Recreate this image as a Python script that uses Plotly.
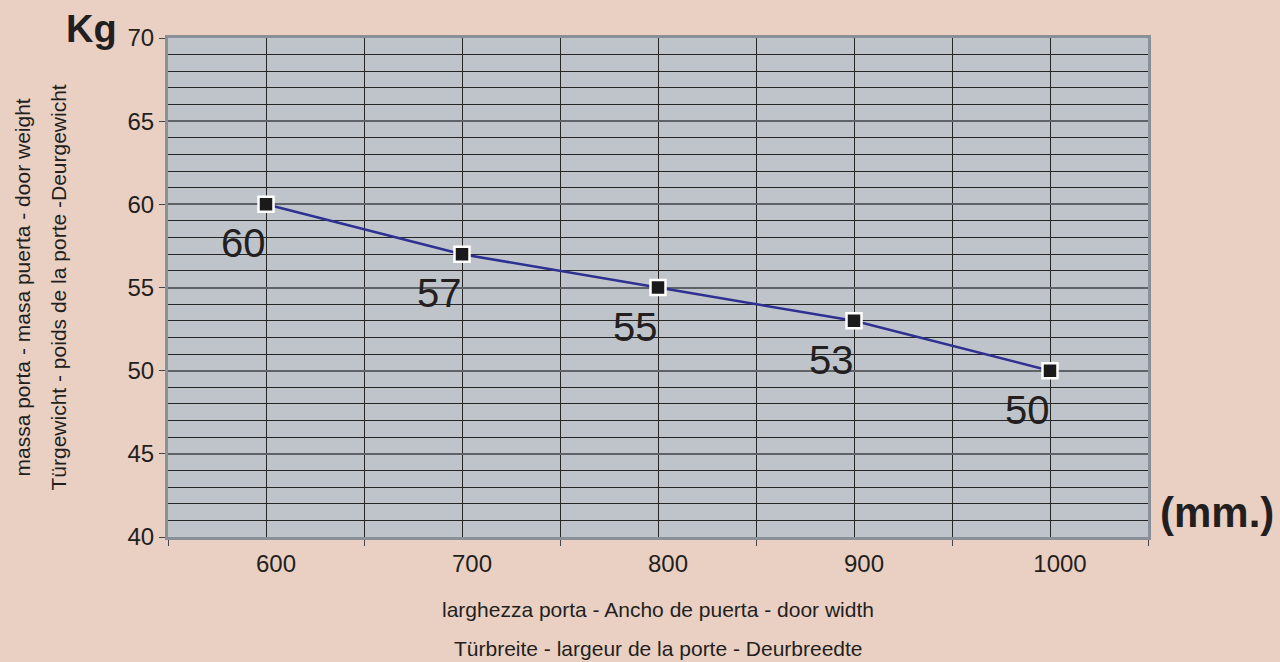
import plotly.graph_objects as go

# Door width (mm) vs. maximum door weight (kg)
widths = [600, 700, 800, 900, 1000]
weights = [60, 57, 55, 53, 50]
x_ticks = [600, 700, 800, 900, 1000]
y_ticks = [40, 45, 50, 55, 60, 65, 70]

PAPER = "#ead0c3"
PLOT = "#bfc4ca"
BORDER = "#8a9097"
GRID = "#262626"
TEXT = "#231f20"

fig = go.Figure()

fig.add_trace(go.Scatter(
    x=widths, y=weights, mode="lines+markers",
    line=dict(color="#2e3192", width=2.5),
    marker=dict(symbol="square", size=15, color="#1a1a1a",
                line=dict(color="white", width=2.5)),
    hoverinfo="x+y", showlegend=False,
))

# value labels below-left of each point
for xv, yv in zip(widths, weights):
    fig.add_annotation(x=xv, y=yv, text=str(yv), showarrow=False,
                       xanchor="right", yanchor="top", xshift=2, yshift=-15,
                       font=dict(family="Liberation Sans, Arial", size=40, color=TEXT))

fig.update_xaxes(
    range=[550, 1050], tickvals=x_ticks, ticktext=[str(v) for v in x_ticks],
    ticks="", ticklabelshift=10, ticklabelstandoff=3,
    tickfont=dict(family="Liberation Sans, Arial", size=24, color=TEXT),
    showgrid=True, gridcolor=GRID, gridwidth=1.4,
    minor=dict(tick0=550, dtick=100, ticks="outside", ticklen=6, tickwidth=1.3,
               tickcolor="#444", showgrid=True, gridcolor=GRID, gridwidth=1.4),
    showline=True, linecolor=BORDER, linewidth=3, mirror=True,
    zeroline=False, fixedrange=True,
)
fig.update_yaxes(
    range=[40, 70], tickvals=y_ticks, ticks="outside", ticklen=6, tickwidth=1.3,
    tickcolor="#444",
    tickfont=dict(family="Liberation Sans, Arial", size=24, color=TEXT),
    showgrid=True, gridcolor="#5f6368", gridwidth=2,
    minor=dict(dtick=1, showgrid=True, gridcolor=GRID, gridwidth=1.4),
    showline=True, linecolor=BORDER, linewidth=3, mirror=True,
    zeroline=False, fixedrange=True,
)

# light edge along the right border of the plot frame
fig.add_shape(type="rect", xref="x", yref="paper", xsizemode="pixel", xanchor=1050,
              x0=2, x1=5, y0=0, y1=1, line_width=0, fillcolor="#c3c8ce", layer="below")

# units
fig.add_annotation(xref="paper", yref="paper", x=-0.05, y=1.0, text="<b>Kg</b>",
                   showarrow=False, xanchor="right", yanchor="bottom", yshift=-14,
                   font=dict(family="Liberation Sans, Arial", size=38, color=TEXT))
fig.add_annotation(xref="paper", yref="paper", x=1.0, y=0.05, text="<b>(mm.)</b>",
                   showarrow=False, xanchor="left", yanchor="middle", xshift=10,
                   font=dict(family="Liberation Sans, Arial", size=42, color=TEXT))

# axis titles
AX_FONT = dict(family="Liberation Sans, Arial", size=21, color=TEXT)
fig.add_annotation(xref="paper", yref="paper", x=0.5, y=0, yshift=-72,
                   text="larghezza porta - Ancho de puerta - door width",
                   showarrow=False, xanchor="center", yanchor="middle", font=AX_FONT)
fig.add_annotation(xref="paper", yref="paper", x=0.5, y=0, yshift=-111,
                   text="Türbreite - largeur de la porte - Deurbreedte",
                   showarrow=False, xanchor="center", yanchor="middle", font=AX_FONT)
fig.add_annotation(xref="paper", yref="paper", x=0, xshift=-146, y=0.5, yshift=0,
                   text="massa porta - masa puerta - door weight", textangle=-90,
                   showarrow=False, xanchor="center", yanchor="middle", font=AX_FONT)
fig.add_annotation(xref="paper", yref="paper", x=0, xshift=-110, y=0.5, yshift=0,
                   text="Türgewicht - poids de la porte -Deurgewicht", textangle=-90,
                   showarrow=False, xanchor="center", yanchor="middle", font=AX_FONT)

fig.update_layout(
    width=1280, height=662,
    margin=dict(l=168, r=132, t=38, b=125),
    paper_bgcolor=PAPER, plot_bgcolor=PLOT,
    showlegend=False,
)

fig.write_html("out.html")
